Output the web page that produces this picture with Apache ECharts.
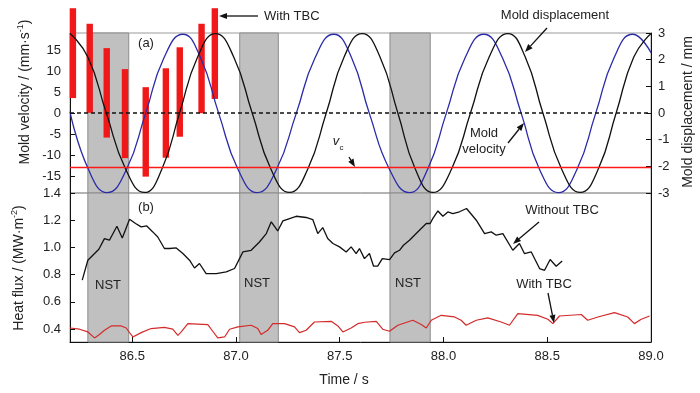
<!DOCTYPE html>
<html><head><meta charset="utf-8">
<script src="https://cdn.jsdelivr.net/npm/echarts@6/dist/echarts.min.js"></script>
<style>html,body{margin:0;padding:0;background:#fff}#c{width:700px;height:393px}</style>
</head><body><div id="c"></div>
<script>
// ---------- data ----------
const timeTicks = [86.5, 87.0, 87.5, 88.0, 88.5, 89.0];
const velocityTicks = [-15, -10, -5, 0, 5, 10, 15];
const heatTicks = [0.4, 0.6, 0.8, 1.0, 1.2, 1.4];
const nstBands = [[86.286, 86.483], [87.018, 87.204], [87.742, 87.936]];
const castingSpeed = -12.7;

// mold velocity (mm/s) : [time, value]
const moldVelocity = [
  [86.2, 0.5], [86.289, -13.3], [86.379, -18.8], [86.472, -13.3], [86.564, 0], [86.653, 13.3],
  [86.744, 18.9], [86.829, 13.3], [86.917, 0], [87.010, -13.3], [87.102, -18.8], [87.195, -13.3],
  [87.290, 0], [87.381, 13.3], [87.471, 18.9], [87.557, 13.3], [87.643, 0], [87.740, -13.3],
  [87.836, -18.8], [87.923, -13.3], [88.013, 0], [88.104, 13.3], [88.194, 18.9], [88.284, 13.3],
  [88.375, 0], [88.463, -13.3], [88.554, -18.8], [88.643, -13.3], [88.733, 0], [88.822, 13.3],
  [88.912, 18.9], [89.0, 14.5]
];
// mold displacement (mm) : [time, value]
const moldDisplacement = [
  [86.2, 2.98], [86.286, 2.1], [86.375, 0], [86.468, -2.1], [86.559, -2.98], [86.643, -2.1],
  [86.728, 0], [86.815, 2.1], [86.901, 2.98], [86.989, 2.1], [87.078, 0], [87.168, -2.1],
  [87.258, -2.98], [87.346, -2.1], [87.435, 0], [87.521, 2.1], [87.608, 2.98], [87.694, 2.1],
  [87.780, 0], [87.864, -2.1], [87.948, -2.98], [88.039, -2.1], [88.130, 0], [88.220, 2.1],
  [88.310, 2.98], [88.394, 2.1], [88.479, 0], [88.569, -2.1], [88.659, -2.98], [88.746, -2.1],
  [88.832, 0], [88.917, 2.1], [89.0, 2.98]
];
// "With TBC" vertical bars (velocity range)
const tbcBarTime = [86.214, 86.295, 86.377, 86.465, 86.565, 86.662, 86.729, 86.834, 86.898];
const tbcBarHigh = [25.1, 21.4, 15.6, 10.6, 6.3, 10.8, 15.8, 21.4, 25.1];
const tbcBarLow = [3.7, 0.2, -5.7, -10.6, -15.0, -10.5, -5.5, 0.1, 3.5];

// heat flux (MW/m2) : [time, value]
const heatFluxWithoutTBC = [
  [86.259, 0.76], [86.286, 0.906], [86.310, 0.943], [86.339, 0.987], [86.366, 1.065], [86.390, 1.053],
  [86.426, 1.156], [86.452, 1.07], [86.487, 1.207], [86.516, 1.176], [86.543, 1.151], [86.570, 1.158],
  [86.599, 1.114], [86.623, 1.077], [86.655, 0.992], [86.680, 0.992], [86.712, 0.996], [86.744, 0.955],
  [86.776, 0.906], [86.800, 0.849], [86.824, 0.882], [86.856, 0.808], [86.905, 0.808], [86.953, 0.82],
  [86.993, 0.845], [87.017, 0.918], [87.033, 0.967], [87.073, 0.979], [87.113, 1.04], [87.146, 1.102],
  [87.170, 1.188], [87.201, 1.121], [87.226, 1.195], [87.290, 1.229], [87.338, 1.22], [87.370, 1.205],
  [87.394, 1.102], [87.418, 1.146], [87.442, 1.065], [87.467, 1.029], [87.499, 1.004], [87.531, 0.967],
  [87.555, 1.004], [87.579, 0.955], [87.595, 0.992], [87.619, 0.918], [87.643, 0.955], [87.663, 0.862],
  [87.683, 0.862], [87.705, 0.918], [87.740, 0.911], [87.764, 0.96], [87.788, 0.979], [87.807, 1.016],
  [87.836, 1.053], [87.860, 1.09], [87.884, 1.126], [87.917, 1.176], [87.936, 1.176], [87.948, 1.212],
  [87.973, 1.268], [87.997, 1.229], [88.021, 1.261], [88.045, 1.249], [88.077, 1.262], [88.111, 1.286],
  [88.158, 1.2], [88.198, 1.102], [88.230, 1.114], [88.254, 1.09], [88.286, 1.102], [88.334, 0.979],
  [88.366, 1.029], [88.390, 0.955], [88.423, 0.967], [88.463, 0.845], [88.487, 0.832], [88.514, 0.911],
  [88.543, 0.862], [88.572, 0.901]
];
const heatFluxWithTBC = [
  [86.2, 0.408], [86.246, 0.399], [86.286, 0.379], [86.318, 0.335], [86.342, 0.36], [86.366, 0.391],
  [86.399, 0.423], [86.447, 0.423], [86.471, 0.408], [86.482, 0.384], [86.503, 0.342], [86.543, 0.374],
  [86.591, 0.404], [86.655, 0.413], [86.695, 0.399], [86.720, 0.354], [86.736, 0.379], [86.768, 0.44],
  [86.864, 0.433], [86.888, 0.384], [86.912, 0.335], [86.945, 0.342], [86.969, 0.399], [87.009, 0.416],
  [87.073, 0.428], [87.105, 0.404], [87.121, 0.36], [87.153, 0.391], [87.177, 0.44], [87.234, 0.44],
  [87.282, 0.416], [87.306, 0.374], [87.338, 0.391], [87.378, 0.452], [87.459, 0.457], [87.491, 0.423],
  [87.515, 0.379], [87.555, 0.408], [87.587, 0.44], [87.620, 0.45], [87.676, 0.457], [87.707, 0.399],
  [87.740, 0.384], [87.780, 0.428], [87.852, 0.465], [87.893, 0.433], [87.917, 0.408], [87.941, 0.465],
  [87.989, 0.501], [88.053, 0.489], [88.085, 0.465], [88.109, 0.428], [88.158, 0.465], [88.213, 0.482],
  [88.278, 0.452], [88.318, 0.428], [88.358, 0.514], [88.454, 0.501], [88.503, 0.472], [88.527, 0.44],
  [88.559, 0.496], [88.664, 0.507], [88.695, 0.465], [88.744, 0.489], [88.824, 0.521], [88.888, 0.489],
  [88.920, 0.44], [88.953, 0.472], [88.993, 0.496]
];

// ---------- chart ----------
const FF = "'Liberation Sans', Arial, sans-serif";
const TXT = '#222';
const chart = echarts.init(document.getElementById('c'), null, {renderer: 'canvas'});

function arrow(x1, y1, x2, y2) {
  const a = Math.atan2(y2 - y1, x2 - x1), L = 8, W = 3;
  const bx = x2 - L * Math.cos(a), by = y2 - L * Math.sin(a);
  const px = -Math.sin(a) * W, py = Math.cos(a) * W;
  return [
    {type: 'line', z: 20, shape: {x1: x1, y1: y1, x2: bx, y2: by}, style: {stroke: '#111', lineWidth: 1.3}},
    {type: 'polygon', z: 20, shape: {points: [[x2, y2], [bx + px, by + py], [bx - px, by - py]]}, style: {fill: '#111'}}
  ];
}
function label(text, x, y, opts) {
  opts = opts || {};
  return {type: 'text', z: 20, x: x, y: y, rotation: opts.rot || 0,
    style: {text: text, fill: TXT, font: (opts.style || '') + ' ' + (opts.size || 13) + 'px ' + FF,
      align: opts.align || 'center', verticalAlign: 'middle', textAlign: opts.align || 'center', textVerticalAlign: 'middle'}};
}
function richTitle(main, sup, x, y) {
  return {type: 'text', z: 20, x: x, y: y, rotation: Math.PI / 2,
    style: {text: '{n|' + main + '}{s|' + sup + '}{n|)}', align: 'center', verticalAlign: 'middle',
      textAlign: 'center', textVerticalAlign: 'middle',
      rich: {n: {fontSize: 14, fontFamily: FF, fill: TXT, color: TXT, lineHeight: 17},
             s: {fontSize: 9, fontFamily: FF, fill: TXT, color: TXT, verticalAlign: 'top', lineHeight: 17}}}};
}

const graphics = [
  label('(a)', 146, 43), label('(b)', 146, 207),
  label('NST', 108, 285), label('NST', 257, 283), label('NST', 408, 283),
  label('With TBC', 264, 16, {align: 'left'}),
  ...arrow(258, 16, 219, 16),
  label('Mold displacement', 555, 15.5),
  ...arrow(547, 28, 525, 52),
  label('Mold', 484, 133), label('velocity', 484, 149),
  ...arrow(508, 143, 524, 123),
  label('v', 336, 141, {style: 'italic'}), label('c', 341.5, 148, {size: 8}),
  ...arrow(349, 157, 355, 167),
  label('Without TBC', 562, 210),
  ...arrow(539, 222, 513, 244),
  label('With TBC', 544, 284),
  ...arrow(548, 293, 554, 323),
  richTitle('Mold velocity / (mm\u00b7s', '-1', 25, 92),
  richTitle('Heat flux / (MW\u00b7m', '-2', 19, 268),
  label('Mold displacement / mm', 688, 112, {rot: Math.PI / 2, size: 14}),
  label('Time / s', 344, 380, {size: 14})
];

const axisLbl = {color: TXT, fontSize: 13, fontFamily: FF};
const black = {color: '#111', width: 1};
const bandArea = {
  silent: true,
  itemStyle: {color: '#c0c0c0', borderColor: '#8c8c8c', borderWidth: 1},
  data: nstBands.map(b => [{xAxis: b[0]}, {xAxis: b[1]}])
};

const option = {
  animation: false,
  backgroundColor: '#fff',
  grid: [
    {left: 70, right: 49, top: 33, height: 160, show: true, borderColor: '#9a9a9a', borderWidth: 1},
    {left: 70, right: 49, top: 193, height: 149, show: true, borderColor: '#9a9a9a', borderWidth: 1}
  ],
  xAxis: [
    {gridIndex: 0, type: 'value', min: 86.2, max: 89.0, axisLine: {show: false}, axisTick: {show: false},
      axisLabel: {show: false}, splitLine: {show: false}},
    {gridIndex: 1, type: 'value', min: 86.2, max: 89.0,
      axisLine: {show: true, onZero: false, lineStyle: black},
      axisTick: {show: true, inside: true, length: 5, customValues: timeTicks, lineStyle: black},
      axisLabel: Object.assign({customValues: timeTicks, margin: 8, formatter: v => v.toFixed(1)}, axisLbl),
      splitLine: {show: false}}
  ],
  yAxis: [
    {gridIndex: 0, type: 'value', min: -18.9, max: 19.2, position: 'left',
      axisLine: {show: true, onZero: false, lineStyle: black},
      axisTick: {show: true, inside: true, length: 5, customValues: velocityTicks, lineStyle: black},
      axisLabel: Object.assign({customValues: velocityTicks, margin: 9}, axisLbl),
      splitLine: {show: false}},
    {gridIndex: 0, type: 'value', min: -3, max: 3, interval: 1, position: 'right',
      axisLine: {show: true, onZero: false, lineStyle: black},
      axisTick: {show: true, inside: true, length: 5, lineStyle: black},
      axisLabel: Object.assign({margin: 7}, axisLbl),
      splitLine: {show: false}},
    {gridIndex: 1, type: 'value', min: 0.305, max: 1.4, position: 'left',
      axisLine: {show: true, onZero: false, lineStyle: black},
      axisTick: {show: true, inside: true, length: 5, customValues: heatTicks, lineStyle: black},
      axisLabel: Object.assign({customValues: heatTicks, margin: 9, formatter: v => v.toFixed(1)}, axisLbl),
      splitLine: {show: false}},
    {gridIndex: 1, type: 'value', min: 0.305, max: 1.4, position: 'right',
      axisLine: {show: true, onZero: false, lineStyle: black},
      axisTick: {show: false}, axisLabel: {show: false}, splitLine: {show: false}}
  ],
  series: [
    {name: 'Mold velocity', type: 'line', xAxisIndex: 0, yAxisIndex: 0, data: moldVelocity,
      smooth: 0.5, showSymbol: false, silent: true,
      itemStyle: {color: '#2b2ba8'},
      lineStyle: {color: '#2b2ba8', width: 1.3},
      markArea: bandArea},
    {name: 'Mold displacement', type: 'line', xAxisIndex: 0, yAxisIndex: 1, data: moldDisplacement,
      smooth: 0.5, showSymbol: false, silent: true,
      itemStyle: {color: '#111'},
      lineStyle: {color: '#111', width: 1.3},
      markLine: {silent: true, symbol: 'none', label: {show: false},
        lineStyle: {type: [4, 3], color: '#111', width: 1.5},
        data: [{yAxis: 0}]}},
    {name: 'Casting speed', type: 'line', xAxisIndex: 0, yAxisIndex: 0, data: [],
      silent: true, itemStyle: {color: '#ff1a1a'}, lineStyle: {color: '#ff1a1a'},
      markLine: {silent: true, symbol: 'none', label: {show: false},
        lineStyle: {type: 'solid', color: '#ff1a1a', width: 1.4, opacity: 1},
        data: [{yAxis: castingSpeed}]}},
    {name: 'With TBC bars', type: 'custom', xAxisIndex: 0, yAxisIndex: 0, z: 3, clip: false, silent: true,
      data: tbcBarTime.map((t, i) => [t, tbcBarLow[i], tbcBarHigh[i]]),
      encode: {x: 0, y: [1, 2]},
      renderItem: function (params, api) {
        const top = api.coord([api.value(0), api.value(2)]);
        const bot = api.coord([api.value(0), api.value(1)]);
        return {type: 'rect', shape: {x: top[0] - 3.2, y: top[1], width: 6.4, height: bot[1] - top[1]},
          style: {fill: '#f01818'}};
      }},
    {name: 'Without TBC', type: 'line', xAxisIndex: 1, yAxisIndex: 2, data: heatFluxWithoutTBC,
      showSymbol: false, silent: true, lineStyle: {color: '#111', width: 1.3},
      markArea: bandArea},
    {name: 'With TBC', type: 'line', xAxisIndex: 1, yAxisIndex: 2, data: heatFluxWithTBC,
      showSymbol: false, silent: true, lineStyle: {color: '#d42a2a', width: 1.2}}
  ],
  graphic: graphics
};
chart.setOption(option);
</script>
</body></html>
